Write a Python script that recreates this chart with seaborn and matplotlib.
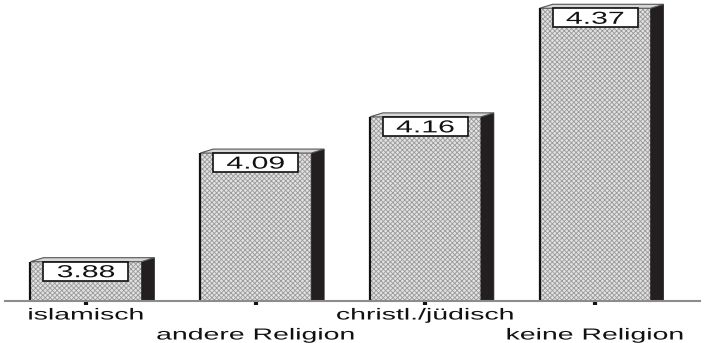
import matplotlib
matplotlib.use("Agg")
import matplotlib.pyplot as plt
import seaborn as sns
from matplotlib.patches import Polygon, Rectangle
from matplotlib.patheffects import AbstractPathEffect
from matplotlib.transforms import Affine2D

# Data
categories = ["islamisch", "andere Religion", "christl./jüdisch", "keine Religion"]
values = [3.88, 4.09, 4.16, 4.37]
value_labels = ["3.88", "4.09", "4.16", "4.37"]


class WideText(AbstractPathEffect):
    """Draws text glyphs stretched horizontally about their centre."""

    def __init__(self, sx):
        super().__init__()
        self.sx = sx

    def draw_path(self, renderer, gc, tpath, affine, rgbFace=None):
        ext = tpath.get_extents()
        c = (ext.x0 + ext.x1) / 2
        stretch = Affine2D().translate(-c, 0).scale(self.sx, 1).translate(c, 0)
        renderer.draw_path(gc, tpath, stretch + affine, rgbFace)


sns.set_style("white")
plt.rcParams["font.family"] = ["Liberation Sans", "DejaVu Sans"]
plt.rcParams["hatch.linewidth"] = 0.6

W, H, DPI = 704, 343, 100
fig = plt.figure(figsize=(W / DPI, H / DPI), dpi=DPI)
ax = fig.add_axes([5 / W, 1 - 301 / H, 695 / W, 301 / H])

sns.barplot(x=categories, y=values, width=0.654, color="#e2e2e2", saturation=1,
            edgecolor="#9a9a9a", linewidth=0, hatch="xxxxxxx", ax=ax, zorder=2)

ax.set_xlim(-0.477, 3.618)
ax.set_ylim(3.804, 4.386)

# pixel -> data conversions for the 3D depth and label boxes
ax_w_px = 695
ax_h_px = 301
x_per_px = (3.618 + 0.477) / ax_w_px
y_per_px = (4.386 - 3.804) / ax_h_px
dx, dy = 13 * x_per_px, 4 * y_per_px
yb = ax.get_ylim()[0]

for bar, lab in zip(ax.patches, value_labels):
    l = bar.get_x()
    r = l + bar.get_width()
    v = bar.get_height()
    xc = l + bar.get_width() / 2
    # dark side face
    ax.add_patch(Polygon([(r, yb), (r, v), (r + dx, v + dy), (r + dx, yb)],
                         closed=True, facecolor="#231f20", edgecolor="#231f20",
                         linewidth=0.5, zorder=3))
    # light top face
    ax.add_patch(Polygon([(l, v), (r, v), (r + dx, v + dy), (l + dx, v + dy)],
                         closed=True, facecolor="#d8d8d8", edgecolor="#555555",
                         linewidth=0.8, zorder=3))
    # front outline: dark left edge
    ax.plot([l, l], [yb, v], color="#111111", lw=1.6, zorder=4,
            solid_capstyle="butt")
    # value box
    bw, bh = 85 * x_per_px, 19 * y_per_px
    ax.add_patch(Rectangle((xc - bw / 2, v - bh), bw, bh, facecolor="white",
                           edgecolor="#111111", linewidth=1.2, zorder=5))
    ax.text(xc, v - bh / 2, lab, ha="center", va="center_baseline",
            fontsize=12.5, color="#111111", zorder=6,
            path_effects=[WideText(1.74)])

# axis styling
for s in ("left", "top", "right"):
    ax.spines[s].set_visible(False)
ax.spines["bottom"].set_color("#8c8c8c")
ax.spines["bottom"].set_linewidth(1.5)
ax.spines["bottom"].set_zorder(6)
ax.set_yticks([])
ax.set_xticks(range(len(categories)))
ax.set_xticklabels([])
ax.tick_params(axis="x", direction="out", length=3, width=3, color="#111111",
               bottom=True)
ax.set_xlabel("")
ax.set_ylabel("")

# staggered category labels
for i, cat in enumerate(categories):
    off = -14 if i % 2 == 0 else -34
    ax.annotate(cat, xy=(i, 0), xycoords=("data", "axes fraction"),
                xytext=(0, off), textcoords="offset pixels",
                ha="center", va="center", fontsize=11.5, color="#111111",
                path_effects=[WideText(1.78)], annotation_clip=False)

fig.savefig("out.png", dpi=DPI)
